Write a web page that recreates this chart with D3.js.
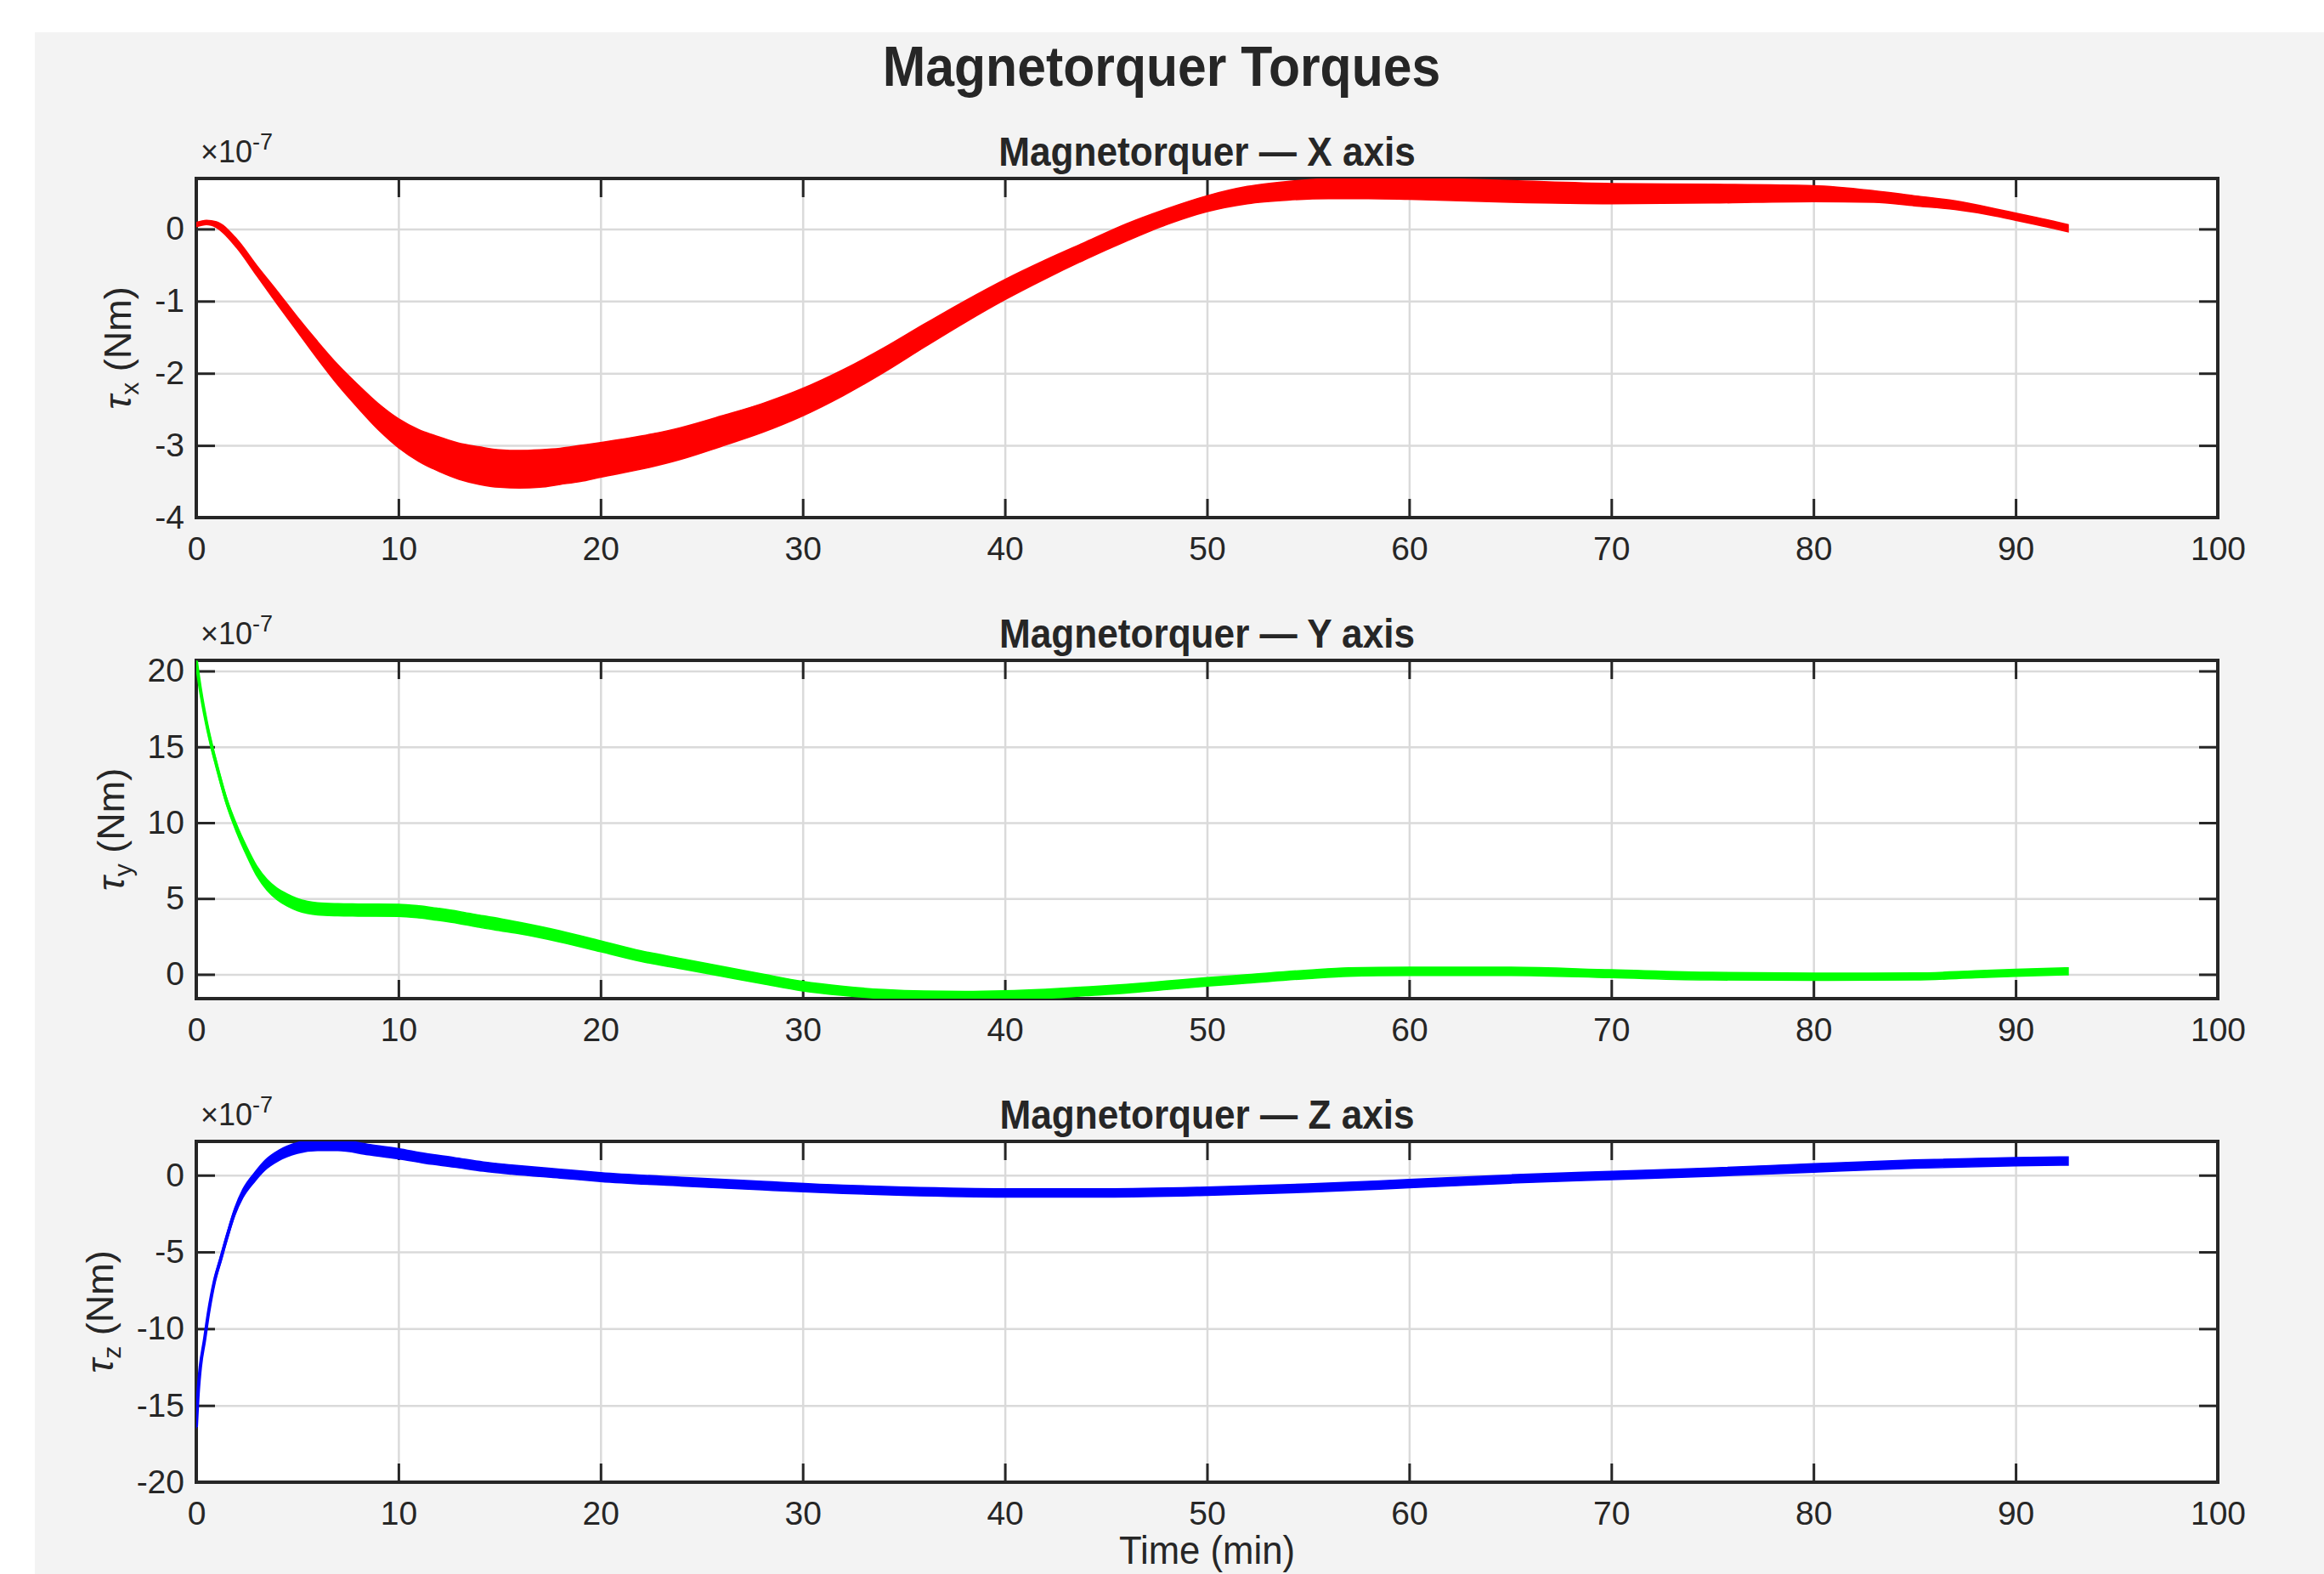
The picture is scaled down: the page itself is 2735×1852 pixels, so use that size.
<!DOCTYPE html>
<html>
<head>
<meta charset="utf-8">
<script src="https://cdn.jsdelivr.net/npm/d3@7"></script>
<style>
  html, body { margin: 0; padding: 0; background: #fff; }
  svg { display: block; }
</style>
</head>
<body>
<svg id="svg"></svg>
<script>
// readings from the figure, torque in units of 1e-7 Nm, time in minutes
// each series: time samples, centre of the noisy band, half width of the band
const tX = [0, 0.5, 1, 2, 3, 4, 5, 6, 7, 8, 9, 10, 11, 12, 13, 14, 15, 16, 17, 18, 19, 20,
  22, 24, 26, 28, 30, 32, 34, 36, 38, 40, 42, 44, 46, 48, 50, 52, 54, 56, 58, 60,
  65, 70, 75, 80, 83, 85, 87, 89, 90, 91, 92, 92.6];
const xMid = [0.06, 0.09, 0.06, -0.2, -0.58, -0.95, -1.32, -1.68, -2.02, -2.32, -2.6, -2.83,
  -3.0, -3.12, -3.22, -3.28, -3.32, -3.33, -3.32, -3.29, -3.25, -3.2,
  -3.1, -2.97, -2.8, -2.62, -2.4, -2.13, -1.82, -1.48, -1.15, -0.84, -0.56, -0.3, -0.05, 0.17,
  0.35, 0.47, 0.53, 0.56, 0.57, 0.56, 0.52, 0.49, 0.49, 0.49, 0.45, 0.39, 0.33, 0.23,
  0.17, 0.11, 0.05, 0.01];
const xHalf = [0.03, 0.03, 0.04, 0.06, 0.07, 0.09, 0.1, 0.12, 0.14, 0.16, 0.18, 0.2, 0.22,
  0.24, 0.25, 0.26, 0.26, 0.26, 0.26, 0.25, 0.25, 0.24,
  0.23, 0.22, 0.21, 0.2, 0.19, 0.18, 0.17, 0.16, 0.15, 0.14, 0.13, 0.12, 0.12, 0.11, 0.11,
  0.12, 0.13, 0.14, 0.15, 0.15, 0.15, 0.14, 0.13, 0.11, 0.08, 0.07, 0.06, 0.05,
  0.05, 0.05, 0.05, 0.05];

const tY = [0, 0.2, 0.5, 0.75, 1, 1.5, 2, 2.5, 3, 3.5, 4, 4.5, 5, 5.5, 6, 7, 8, 10, 11, 12,
  13, 14, 15, 16, 18, 20, 22, 24, 26, 28, 30, 32, 34, 36, 38, 40, 42, 44, 46, 48,
  50, 52, 55, 57, 60, 65, 70, 75, 80, 85, 88, 90, 92.6];
const yMid = [20.65, 18.8, 16.6, 15.1, 13.8, 11.4, 9.6, 8.1, 6.8, 5.9, 5.3, 4.9, 4.6, 4.42,
  4.32, 4.26, 4.24, 4.22, 4.12, 3.95, 3.75, 3.5, 3.28, 3.05, 2.5, 1.85, 1.2, 0.7, 0.2, -0.3,
  -0.78, -1.09, -1.3, -1.4, -1.42, -1.38, -1.28, -1.12, -0.95, -0.72, -0.5, -0.3, 0.0, 0.15,
  0.2, 0.2, 0.04, -0.12, -0.16, -0.14, 0.0, 0.1, 0.2];
const yHalf = [0.12, 0.15, 0.18, 0.2, 0.2, 0.24, 0.27, 0.3, 0.33, 0.36, 0.38, 0.4, 0.4, 0.4,
  0.4, 0.4, 0.4, 0.4, 0.4, 0.4, 0.4, 0.4, 0.4, 0.38, 0.37, 0.36, 0.35, 0.34, 0.33, 0.32,
  0.31, 0.3, 0.3, 0.3, 0.3, 0.3, 0.3, 0.29, 0.29, 0.28, 0.28, 0.28, 0.28, 0.28, 0.28,
  0.27, 0.26, 0.25, 0.24, 0.23, 0.23, 0.23, 0.23];

const tZ = [0, 0.1, 0.2, 0.4, 0.6, 0.9, 1.2, 1.5, 1.9, 2.3, 2.9, 3.4, 4.1, 5, 6, 7, 8.5, 10,
  11.3, 12.75, 14.2, 15.6, 18, 20, 24, 28, 32, 35, 40, 45, 50, 55, 60, 65, 70, 75, 80, 85,
  90, 92.6];
const zMid = [-16.4, -14.0, -12.5, -10.8, -9.0, -6.9, -5.5, -4.1, -2.4, -1.2, -0.1, 0.65, 1.3,
  1.77, 1.95, 1.95, 1.67, 1.4, 1.1, 0.84, 0.56, 0.37, 0.1, -0.12, -0.42, -0.68, -0.92,
  -1.04, -1.15, -1.15, -1.04, -0.84, -0.55, -0.25, -0.02, 0.2, 0.47, 0.72, 0.88, 0.92];
const zHalf = [0.1, 0.1, 0.12, 0.14, 0.16, 0.18, 0.2, 0.22, 0.25, 0.28, 0.3, 0.32, 0.34, 0.35,
  0.35, 0.35, 0.34, 0.33, 0.32, 0.31, 0.3, 0.3, 0.29, 0.29, 0.28, 0.28, 0.27, 0.27, 0.27,
  0.27, 0.27, 0.27, 0.27, 0.27, 0.27, 0.27, 0.27, 0.27, 0.27, 0.27];

const timeTicks = [0, 10, 20, 30, 40, 50, 60, 70, 80, 90, 100];
const xTicks = [-4, -3, -2, -1, 0];
const yTicks = [0, 5, 10, 15, 20];
const zTicks = [-20, -15, -10, -5, 0];
const xDomain = [-4, 0.7];
const yDomain = [-1.6, 20.7];
const zDomain = [-20, 2.2];

const mainTitle = "Magnetorquer Torques";
const subTitles = ["Magnetorquer \u2014 X axis", "Magnetorquer \u2014 Y axis", "Magnetorquer \u2014 Z axis"];
const subscripts = ["x", "y", "z"];
const seriesColors = ["#ff0000", "#00ff00", "#0000ff"];
const timeLabel = "Time (min)";

// ---- layout ----
const svgWidth = 2735;
const svgHeight = 1852;
const font = "'Liberation Sans', Arial, Helvetica, sans-serif";
const ink = "#262626";
const gridColor = "#dadada";
const plotLeft = 231;
const plotRight = 2610;
const panelBoxes = [
  { top: 210, bottom: 609 },
  { top: 777, bottom: 1175 },
  { top: 1343, bottom: 1744 }
];
const tickLen = 22;

const svg = d3.select("#svg").attr("width", svgWidth).attr("height", svgHeight);

svg.append("rect").attr("width", svgWidth).attr("height", svgHeight).attr("fill", "#ffffff");
svg.append("rect")
  .attr("x", 41).attr("y", 38)
  .attr("width", svgWidth - 41).attr("height", svgHeight - 38)
  .attr("fill", "#f3f3f3");

// condensed text helper (the figure's lettering is slightly narrow)
function label(parent, x, y, txt, size, weight, sx) {
  return parent.append("text")
    .attr("transform", `translate(${x},${y}) scale(${sx},1)`)
    .attr("text-anchor", "middle")
    .attr("font-family", font)
    .attr("font-size", size)
    .attr("font-weight", weight)
    .attr("fill", ink)
    .text(txt);
}

label(svg, 1367, 101, mainTitle, 66, "bold", 0.92);

const tScale = d3.scaleLinear().domain([0, 100]).range([plotLeft, plotRight]);

const panels = [
  { t: tX, mid: xMid, half: xHalf, ticks: xTicks, domain: xDomain },
  { t: tY, mid: yMid, half: yHalf, ticks: yTicks, domain: yDomain },
  { t: tZ, mid: zMid, half: zHalf, ticks: zTicks, domain: zDomain }
];

function styleAxis(sel) {
  sel.select(".domain").remove();
  sel.selectAll(".tick line").attr("stroke", ink).attr("stroke-width", 3);
  sel.selectAll(".tick text")
    .attr("fill", ink)
    .attr("font-family", font)
    .attr("font-size", 39);
}

panels.forEach((p, i) => {
  const box = panelBoxes[i];
  const h = box.bottom - box.top;
  const w = plotRight - plotLeft;
  const vScale = d3.scaleLinear().domain(p.domain).range([box.bottom, box.top]);
  const g = svg.append("g");

  g.append("rect")
    .attr("x", plotLeft).attr("y", box.top)
    .attr("width", w).attr("height", h)
    .attr("fill", "#ffffff");

  // grid
  g.append("g")
    .attr("transform", `translate(0,${box.bottom})`)
    .call(d3.axisBottom(tScale).tickValues(timeTicks).tickSize(-h).tickFormat(""))
    .call(s => s.select(".domain").remove())
    .selectAll("line").attr("stroke", gridColor).attr("stroke-width", 2.5);
  g.append("g")
    .attr("transform", `translate(${plotLeft},0)`)
    .call(d3.axisLeft(vScale).tickValues(p.ticks).tickSize(-w).tickFormat(""))
    .call(s => s.select(".domain").remove())
    .selectAll("line").attr("stroke", gridColor).attr("stroke-width", 2.5);

  // ticks on all four sides, pointing in
  g.append("g")
    .attr("transform", `translate(0,${box.bottom})`)
    .call(d3.axisBottom(tScale).tickValues(timeTicks).tickSizeInner(-tickLen)
      .tickSizeOuter(0).tickPadding(22).tickFormat(d => String(d)))
    .call(styleAxis);
  g.append("g")
    .attr("transform", `translate(0,${box.top})`)
    .call(d3.axisTop(tScale).tickValues(timeTicks).tickSizeInner(-tickLen)
      .tickSizeOuter(0).tickFormat(""))
    .call(styleAxis);
  const leftAxis = g.append("g")
    .attr("transform", `translate(${plotLeft},0)`)
    .call(d3.axisLeft(vScale).tickValues(p.ticks).tickSizeInner(-tickLen)
      .tickSizeOuter(0).tickPadding(14).tickFormat(d => String(d)))
    .call(styleAxis);
  g.append("g")
    .attr("transform", `translate(${plotRight},0)`)
    .call(d3.axisRight(vScale).tickValues(p.ticks).tickSizeInner(-tickLen)
      .tickSizeOuter(0).tickFormat(""))
    .call(styleAxis);

  g.append("rect")
    .attr("x", plotLeft).attr("y", box.top)
    .attr("width", w).attr("height", h)
    .attr("fill", "none").attr("stroke", ink).attr("stroke-width", 4);

  // data band
  const clipId = "clip" + i;
  svg.append("clipPath").attr("id", clipId)
    .append("rect")
    .attr("x", plotLeft).attr("y", box.top)
    .attr("width", w).attr("height", h);

  const rows = p.t.map((t, k) => ({ t: t, mid: p.mid[k], half: p.half[k] }));
  const band = d3.area()
    .x(d => tScale(d.t))
    .y0(d => vScale(d.mid - d.half))
    .y1(d => vScale(d.mid + d.half))
    .curve(d3.curveMonotoneX);
  const centre = d3.line()
    .x(d => tScale(d.t))
    .y(d => vScale(d.mid))
    .curve(d3.curveMonotoneX);

  const dg = g.append("g").attr("clip-path", `url(#${clipId})`);
  dg.append("path").datum(rows)
    .attr("d", band)
    .attr("fill", seriesColors[i])
    .attr("stroke", seriesColors[i])
    .attr("stroke-width", 1.5);
  dg.append("path").datum(rows)
    .attr("d", centre)
    .attr("fill", "none")
    .attr("stroke", seriesColors[i])
    .attr("stroke-width", 4)
    .attr("stroke-linejoin", "round");

  // exponent note
  const expo = g.append("text")
    .attr("x", plotLeft + 5).attr("y", box.top - 19)
    .attr("font-family", font).attr("fill", ink);
  expo.append("tspan").attr("font-size", 36).text("\u00d710");
  expo.append("tspan").attr("font-size", 27).attr("dy", -15).text("-7");

  // panel title
  label(g, (plotLeft + plotRight) / 2, box.top - 15, subTitles[i], 48, "bold", 0.92);

  // y label, placed left of the widest tick label
  let widest = 0;
  leftAxis.selectAll(".tick text").each(function () {
    widest = Math.max(widest, this.getComputedTextLength());
  });
  const baseX = plotLeft - 14 - widest - 28;
  const yl = g.append("text")
    .attr("transform", `translate(${baseX},${(box.top + box.bottom) / 2}) rotate(-90)`)
    .attr("text-anchor", "middle")
    .attr("font-family", font)
    .attr("font-size", 45)
    .attr("fill", ink);
  yl.append("tspan").attr("font-style", "italic").text("\u03c4");
  yl.append("tspan").attr("font-size", 30).attr("dy", 9).text(subscripts[i]);
  yl.append("tspan").attr("dy", -9).text(" (Nm)");
});

label(svg, (plotLeft + plotRight) / 2, 1840, timeLabel, 46, "normal", 0.95);
</script>
</body>
</html>
